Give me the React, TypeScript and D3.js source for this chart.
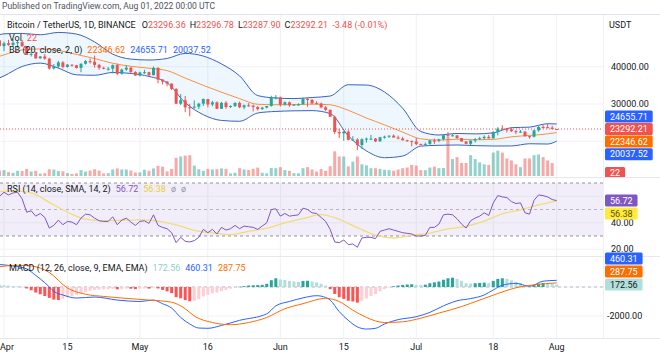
import React from "react";
import * as d3 from "d3";

// ---------- DATA (daily, index 0 = 2022-03-31) ----------
const START_DATE = "2022-03-31";

const OPEN = [
  47067, 45510, 46283, 45811, 46407, 46580, 45497, 43170, 43444, 42252, 42753, 42158, 39530, 40074, 41147, 39942, 40551, 40378, 39678, 40801, 41493, 41358, 40480, 39709, 39441, 39450, 40426, 38112, 39235, 39742, 38596,
  37630, 38468, 38525, 37729, 39690, 36552, 36013, 35472, 34039, 30076, 31017, 29103, 29029, 29287, 30086, 31329, 29874, 30444, 28715, 30319, 29201, 29445, 30293, 29110, 29655, 29542, 29202, 28628, 29032, 29469, 31735,
  31802, 29805, 30452, 29700, 29865, 29920, 31373, 31125, 30205, 30110, 29092, 28424, 26574, 22488, 22136, 22584, 20381, 20471, 19017, 20553, 20720, 20724, 19987, 21085, 21231, 21502, 21027, 20735, 20281, 20105,
  19943, 19253, 19233, 19300, 20232, 20190, 20548, 21637, 21582, 21592, 20860, 19970, 19323, 20212, 20569, 20836, 21190, 20780, 22485, 23389, 23231, 23164, 22714, 22465, 22609, 21361, 21239, 22930, 23843, 23804, 23656,
  23296.36,
];
const HIGH = [
  47600, 46720, 47213, 47444, 46890, 47200, 45507, 43900, 43970, 42800, 43410, 42414, 40700, 41561, 41500, 40709, 40605, 40470, 40900, 41760, 42199, 42976, 40795, 39980, 39940, 40616, 40797, 39474, 40372, 39925, 38795,
  38675, 39167, 38651, 40023, 39845, 36639, 36130, 35510, 34243, 32659, 32162, 30032, 30976, 30343, 31460, 31330, 30788, 30700, 30545, 30777, 29618, 30487, 30672, 29850, 30223, 29843, 29400, 29255, 29500, 32222, 32399,
  31982, 30687, 30668, 29960, 30189, 31765, 31589, 31328, 30700, 30386, 29440, 28550, 26896, 23362, 22800, 22980, 21365, 20790, 20815, 21000, 21723, 20875, 21200, 21520, 21600, 21868, 21520, 21184, 20432, 20180,
  20876, 19430, 19649, 20354, 20725, 20675, 21838, 22527, 21955, 21609, 20868, 20046, 20250, 20880, 21200, 21600, 21685, 22730, 23800, 24276, 23444, 23756, 23000, 23014, 22660, 21400, 23100, 24199, 24442, 24668, 24194,
  23296.78,
];
const LOW = [
  45200, 44200, 45620, 45530, 45118, 45353, 43121, 42727, 42107, 42125, 41868, 39200, 39254, 39588, 39551, 39770, 40019, 39546, 38536, 40571, 40820, 39751, 39177, 39285, 38929, 38200, 37702, 37867, 38881, 38176, 37578,
  37386, 38052, 37517, 37670, 35571, 35258, 34785, 33713, 30033, 29730, 27785, 26700, 28751, 28630, 29480, 29087, 29420, 28654, 28708, 28730, 28947, 29227, 28893, 28600, 29295, 28019, 28261, 28452, 28800, 29283, 31215,
  29311, 29586, 29250, 29486, 29500, 29866, 29250, 29843, 29944, 28850, 28100, 26560, 21925, 20846, 20111, 20232, 20246, 17622, 17960, 19637, 20348, 19770, 19892, 20703, 20900, 20964, 20510, 20173, 19855, 18626,
  18975, 18978, 18781, 19055, 19304, 19762, 20251, 21189, 21345, 20655, 19900, 19240, 18910, 19616, 20384, 20480, 20758, 20750, 21580, 23065, 22341, 22500, 21934, 22257, 21250, 20706, 21044, 22580, 23414, 23502, 23227,
  23287.9,
];
const CLOSE = [
  45510, 46283, 45811, 46407, 46580, 45497, 43170, 43444, 42252, 42753, 42158, 39530, 40074, 41147, 39942, 40551, 40378, 39678, 40801, 41493, 41358, 40480, 39709, 39441, 39450, 40426, 38112, 39235, 39742, 38596, 37630,
  38468, 38525, 37729, 39690, 36552, 36013, 35472, 34039, 30076, 31017, 29103, 29029, 29287, 30086, 31329, 29874, 30444, 28715, 30319, 29201, 29445, 30293, 29110, 29655, 29542, 29202, 28628, 29032, 29469, 31735, 31802,
  29805, 30452, 29700, 29865, 29920, 31373, 31125, 30205, 30110, 29092, 28424, 26574, 22488, 22136, 22584, 20381, 20471, 19017, 20553, 20720, 20724, 19987, 21085, 21231, 21502, 21027, 20735, 20281, 20105, 19943,
  19253, 19233, 19300, 20232, 20190, 20548, 21637, 21582, 21592, 20860, 19970, 19323, 20212, 20569, 20836, 21190, 20780, 22485, 23389, 23231, 23164, 22714, 22465, 22609, 21361, 21239, 22930, 23843, 23804, 23656, 23295.69,
  23292.21,
];
// volume, thousand BTC
const VOLUME = [
  42, 45, 30, 25, 40, 38, 55, 35, 40, 18, 22, 52, 50, 38, 36, 22, 16, 20, 45, 34, 42, 52, 42, 20, 22, 50, 58, 50, 50, 42, 27,
  28, 48, 40, 58, 78, 72, 35, 55, 140, 150, 157, 160, 80, 52, 40, 55, 50, 52, 58, 55, 20, 25, 60, 50, 46, 56, 65, 25, 20, 62, 60,
  68, 46, 40, 22, 21, 60, 68, 50, 34, 53, 40, 75, 190, 150, 150, 75, 110, 150, 90, 82, 60, 60, 55, 48, 45, 40, 50, 60, 65, 85,
  80, 45, 45, 65, 72, 60, 62, 300, 130, 145, 100, 100, 160, 130, 105, 90, 85, 180, 195, 180, 135, 120, 90, 68, 135, 135, 160, 165, 145, 120, 100,
  0.022,
];
const RSI = [
  60, 63, 61, 62.5, 63, 58, 48, 49, 45, 47, 44, 36, 38, 42, 38.5, 41, 40.5, 38.5, 43.5, 46.5, 46, 43.5, 41.5, 41, 41, 44.5, 38.5, 42, 43.5, 40.5, 38,
  41, 41.5, 39.5, 46, 38, 36.5, 35.5, 32.5, 25, 29, 26, 25.5, 26.5, 29, 35, 32.5, 35, 31.5, 36.5, 34.5, 35.5, 38, 35.5, 37.5, 37, 36.5, 35, 37.5, 40, 50, 50.5,
  45, 47, 45, 45.5, 46, 51, 50, 47.5, 47, 44, 41, 35, 25.5, 25, 27, 23.5, 24, 21.5, 28.5, 29, 29, 28, 33.5, 34.5, 35.5, 34.5, 33.5, 32.5, 32, 31.5,
  30, 30, 30.5, 36.5, 36.5, 39, 46, 46.5, 46, 43, 39, 36, 41.5, 43.5, 45, 47.5, 45.5, 55, 60.5, 59.5, 59, 56, 54.5, 55, 47.5, 46.5, 57, 61, 60.5, 59.5, 57.5,
  56.72,
];
const MACD_HIST = [
  150, 120, 90, 60, 40, 20, -100, -220, -380, -500, -620, -750, -870, -900, -820, -700, -620, -540, -430, -330, -260, -200, -180, -170, -150, -120, -160, -150, -110, -120, -140,
  -120, -100, -110, -20, -100, -200, -300, -420, -700, -780, -900, -980, -950, -850, -650, -550, -430, -380, -270, -200, -120, -30, 20, 60, 100, 120, 130, 150, 220, 470, 600,
  520, 480, 420, 380, 350, 420, 430, 380, 320, 220, 100, -150, -480, -700, -820, -950, -1000, -1080, -950, -800, -620, -480, -300, -150, -30, 50, 100, 140, 170, 190,
  150, 140, 160, 260, 320, 380, 500, 600, 640, 560, 430, 260, 240, 260, 280, 300, 270, 420, 560, 600, 560, 460, 360, 280, 120, 40, 120, 230, 280, 270, 220,
  172.56,
];

// keyframe series (day index from START_DATE)
const BB_DAY = [0, 1, 5, 9, 13, 17, 21, 25, 29, 33, 37, 41, 45, 49, 53, 57, 61, 65, 69, 73, 77, 81, 85, 89, 93, 97, 101, 105, 109, 113, 117, 121, 123];
const BB_BASIS = [42790, 43170, 44490, 44760, 44400, 43290, 42180, 40910, 40120, 39590, 38950, 36950, 34990, 33170, 31450, 29920, 29810, 29810, 29980, 29780, 28310, 26250, 24410, 22460, 20670, 20310, 20560, 20410, 20500, 21200, 21570, 21990, 22346.62];
const BB_UPPER = [48600, 48810, 48930, 48560, 49180, 48750, 46650, 43370, 42040, 41790, 42210, 43560, 42850, 40750, 37540, 32260, 31610, 31450, 31740, 32140, 35170, 35080, 33220, 28860, 22630, 21690, 22100, 21990, 22260, 23650, 23800, 24710, 24655.71];
const BB_LOWER = [37000, 37530, 40050, 40960, 39620, 37820, 37700, 38450, 38190, 37390, 35680, 30350, 27130, 25590, 25370, 27580, 28010, 28170, 28220, 27420, 21460, 17420, 15600, 16050, 18710, 18930, 19010, 18830, 18740, 18750, 19340, 19270, 20037.52];

const RSI_MA_DAY = [0, 3, 7, 11, 15, 19, 23, 27, 31, 35, 39, 43, 47, 51, 55, 59, 63, 67, 71, 75, 79, 83, 87, 91, 95, 99, 103, 107, 111, 115, 119, 123];
const RSI_MA = [63.5, 64, 62.5, 55.4, 48.1, 42.7, 41.5, 41.9, 42.2, 41.2, 38.4, 34.3, 32.3, 31.0, 33.5, 35.9, 40.0, 43.1, 46.1, 42.5, 36.3, 30.6, 28.5, 30.5, 32.25, 35.3, 37.3, 41.2, 46.75, 49.8, 53.5, 56.38];

const MACD_DAY = [0, 3, 6, 8, 10, 11, 12, 14, 17, 21, 26, 31, 34, 36, 38, 40, 42, 44, 46, 49, 53, 59, 61, 64, 67, 70, 72, 73, 75, 77, 79, 81, 83, 85, 88, 92, 95, 98, 100, 101, 104, 107, 109, 111, 114, 117, 120, 123];
const MACD_LINE = [1550, 1450, 1250, 800, 300, 0, -300, -550, -760, -690, -900, -1000, -900, -1150, -1450, -2100, -2550, -2830, -2850, -2650, -2300, -1850, -1300, -1000, -750, -600, -720, -900, -1700, -2300, -2750, -2900, -2850, -2550, -2250, -2050, -1750, -1300, -1050, -950, -800, -550, -200, 120, 250, 50, 400, 460.31];
const SIGNAL_DAY = [0, 4, 7, 11, 15, 19, 23, 27, 33, 38, 41, 43, 47, 51, 55, 59, 63, 67, 72, 75, 78, 81, 85, 89, 93, 97, 102, 106, 110, 114, 118, 123];
const SIGNAL_LINE = [1400, 1500, 1450, 1000, -70, -500, -650, -760, -900, -1050, -1500, -2000, -2450, -2600, -2450, -2100, -1500, -1150, -780, -1000, -1600, -2100, -2450, -2400, -2150, -1800, -1350, -900, -450, -50, 150, 287.75];

const TIME_TICKS = ["2022-04-01", "2022-04-15", "2022-05-01", "2022-05-16", "2022-06-01", "2022-06-15", "2022-07-01", "2022-07-18", "2022-08-01"];
const TIME_LABELS = ["Apr", "15", "May", "16", "Jun", "15", "Jul", "18", "Aug"];
const PRICE_TICKS = [40000, 30000, 20000];
const RSI_TICKS = [60, 40, 20];
const RSI_BANDS = [70, 50, 30];
const MACD_TICKS = [0, -2000];

// ---------- LAYOUT / STYLE ----------
const W = 660, H = 357;
const PLOT_R = 603;
const FONT = "Roboto, 'Liberation Sans', Arial, sans-serif";
const UP = "#26a69a", DOWN = "#ef5350";
const BLUE = "#2962FF", ORANGE = "#FF6D00", PURPLE = "#7E57C2", YELLOW = "#FFEB3B";
const TXT = "#131722";
const PANE = { price: [14, 177], rsi: [178, 256], macd: [257, 338] };

const startDate = new Date(START_DATE + "T00:00:00Z");
const dateAt = (i: number) => d3.utcDay.offset(startDate, i);

const x = d3.scaleUtc().domain([new Date("2022-04-01T00:00:00Z"), new Date("2022-08-01T00:00:00Z")]).range([4, 556.7]);
const yP = d3.scaleLinear().domain([30000, 40000]).range([104, 66.7]);
const yV = d3.scaleLinear().domain([0, 300]).range([176, 137]);
const yR = d3.scaleLinear().domain([30, 70]).range([236, 183]);
const yM = d3.scaleLinear().domain([-2000, 0]).range([316, 287]);

const tw = (s: string) => s.split("").reduce((a, c) => a + (c === "." ? 2.3 : c === "-" ? 3.2 : 5.06), 0);

function stack(items: { v: number; y: number }[], anchor: number, h: number) {
  const out = items.map((d) => d.y);
  for (let i = anchor - 1; i >= 0; i--) out[i] = Math.min(items[i].y, out[i + 1] - h);
  for (let i = anchor + 1; i < items.length; i++) out[i] = Math.max(items[i].y, out[i - 1] + h);
  return out;
}

function AxisBox({ y, text, fill, color = "#fff" }: { y: number; text: string; fill: string; color?: string }) {
  const w = tw(text) + 10;
  return (
    <g>
      <rect x={605} y={y - 6} width={w} height={12} rx={1.5} fill={fill} />
      <text x={610} y={y} dy="0.35em" fontSize={9} fill={color} fontFamily={FONT}>{text}</text>
    </g>
  );
}

export default function App() {
  const idx = d3.range(CLOSE.length);
  const last = CLOSE.length - 1;
  const bw = 3;

  const kf = (days: number[], vals: number[], ys: (v: number) => number) =>
    d3.line<number>().x((_, i) => x(dateAt(days[i]))).y((_, i) => ys(vals[i])).curve(d3.curveMonotoneX)(days) || "";

  const bbArea = d3.area<number>()
    .x((_, i) => x(dateAt(BB_DAY[i])))
    .y0((_, i) => yP(BB_LOWER[i]))
    .y1((_, i) => yP(BB_UPPER[i]))
    .curve(d3.curveMonotoneX)(BB_DAY) || "";

  const rsiPath = d3.line<number>().x((i) => x(dateAt(i))).y((i) => yR(RSI[i]))(idx) || "";

  const priceItems = [
    { v: BB_UPPER[BB_UPPER.length - 1], fill: BLUE },
    { v: CLOSE[last], fill: DOWN },
    { v: BB_BASIS[BB_BASIS.length - 1], fill: ORANGE },
    { v: BB_LOWER[BB_LOWER.length - 1], fill: BLUE },
  ].map((d) => ({ ...d, y: yP(d.v) }));
  const priceY = stack(priceItems, 1, 12.6);

  const rsiItems = [
    { v: RSI[last], fill: PURPLE, color: "#fff" },
    { v: RSI_MA[RSI_MA.length - 1], fill: YELLOW, color: "#5b5200" },
  ].map((d) => ({ ...d, y: yR(d.v) }));
  const rsiY = stack(rsiItems, 0, 13);

  const macdItems = [
    { v: MACD_LINE[MACD_LINE.length - 1], fill: BLUE, color: "#fff" },
    { v: SIGNAL_LINE[SIGNAL_LINE.length - 1], fill: ORANGE, color: "#fff" },
    { v: MACD_HIST[last], fill: "#B2DFDB", color: TXT },
  ].map((d) => ({ ...d, y: yM(d.v) }));
  const macdY = stack(macdItems, 2, 13);

  const free = (y: number, boxes: number[]) => boxes.every((b) => Math.abs(b - y) >= 8);

  const histColor = (i: number) => {
    const h = MACD_HIST[i];
    const p = i > 0 ? MACD_HIST[i - 1] : h;
    if (h >= 0) return p < h ? "#26A69A" : "#B2DFDB";
    return p < h ? "#FFCDD2" : "#FF5252";
  };

  const fmt = (v: number) => v.toFixed(2);
  const chg = CLOSE[last] - CLOSE[last - 1];
  const chgPct = (chg / CLOSE[last - 1]) * 100;

  return (
    <svg width={W} height={H} style={{ display: "block", position: "absolute", left: 0, top: 0, background: "#fff" }} fontFamily={FONT}>
      <defs>
        <clipPath id="cpP"><rect x={0} y={PANE.price[0]} width={PLOT_R} height={PANE.price[1] - PANE.price[0]} /></clipPath>
        <clipPath id="cpR"><rect x={0} y={PANE.rsi[0]} width={PLOT_R} height={PANE.rsi[1] - PANE.rsi[0]} /></clipPath>
        <clipPath id="cpM"><rect x={0} y={PANE.macd[0]} width={PLOT_R} height={PANE.macd[1] - PANE.macd[0]} /></clipPath>
        <clipPath id="cpAxisP"><rect x={PLOT_R} y={PANE.price[0]} width={W - PLOT_R} height={PANE.price[1] - PANE.price[0]} /></clipPath>
      </defs>
      <rect x={0} y={0} width={W} height={H} fill="#fff" />

      <text x={2} y={9} fontSize={8.6} fill="#50535e">Published on TradingView.com, Aug 01, 2022 00:00 UTC</text>
      <line x1={0} x2={W} y1={14.5} y2={14.5} stroke="#e0e3eb" />

      {/* grid */}
      {TIME_TICKS.map((t, i) => (
        <line key={"vg" + i} x1={x(new Date(t + "T00:00:00Z"))} x2={x(new Date(t + "T00:00:00Z"))} y1={15} y2={338} stroke="#eef0f4" />
      ))}
      {PRICE_TICKS.map((t) => <line key={"pg" + t} x1={0} x2={PLOT_R} y1={yP(t)} y2={yP(t)} stroke="#f0f3fa" />)}
      {RSI_TICKS.map((t) => <line key={"rg" + t} x1={0} x2={PLOT_R} y1={yR(t)} y2={yR(t)} stroke="#f0f3fa" />)}
      {MACD_TICKS.map((t) => <line key={"mg" + t} x1={0} x2={PLOT_R} y1={yM(t)} y2={yM(t)} stroke="#f0f3fa" />)}
      <line x1={0} x2={W} y1={177.5} y2={177.5} stroke="#e6e8ee" />
      <line x1={0} x2={W} y1={256.5} y2={256.5} stroke="#e6e8ee" />
      <line x1={0} x2={W} y1={338.5} y2={338.5} stroke="#e6e8ee" />
      <line x1={PLOT_R + 0.5} x2={PLOT_R + 0.5} y1={15} y2={338} stroke="#eef0f4" />

      {/* PRICE PANE */}
      <g clipPath="url(#cpP)">
        <path d={bbArea} fill="rgba(33,150,243,0.08)" />
        {idx.map((i) => (
          <rect key={"v" + i} x={x(dateAt(i)) - bw / 2} y={yV(VOLUME[i])} width={bw} height={yV(0) - yV(VOLUME[i])}
            fill={CLOSE[i] >= OPEN[i] ? "rgba(38,166,154,0.5)" : "rgba(239,83,80,0.5)"} />
        ))}
        <path d={kf(BB_DAY, BB_UPPER, yP)} fill="none" stroke="#3b62c0" strokeWidth={1} />
        <path d={kf(BB_DAY, BB_LOWER, yP)} fill="none" stroke="#3b62c0" strokeWidth={1} />
        <path d={kf(BB_DAY, BB_BASIS, yP)} fill="none" stroke={ORANGE} strokeOpacity={0.75} strokeWidth={1} />
        <line x1={0} x2={PLOT_R} y1={yP(CLOSE[last])} y2={yP(CLOSE[last])} stroke={DOWN} strokeDasharray="1,2" />
        {idx.map((i) => {
          const cx = x(dateAt(i));
          const c = CLOSE[i] >= OPEN[i] ? UP : DOWN;
          const top = yP(Math.max(OPEN[i], CLOSE[i]));
          const bot = yP(Math.min(OPEN[i], CLOSE[i]));
          return (
            <g key={"c" + i}>
              <line x1={cx} x2={cx} y1={yP(HIGH[i])} y2={yP(LOW[i])} stroke={c} strokeWidth={1} />
              <rect x={cx - bw / 2} y={top} width={bw} height={Math.max(1, bot - top)} fill={c} />
            </g>
          );
        })}
      </g>

      {/* RSI PANE */}
      <g clipPath="url(#cpR)">
        <rect x={0} y={yR(70)} width={PLOT_R} height={yR(30) - yR(70)} fill="rgba(126,87,194,0.1)" />
        {RSI_BANDS.map((b) => (
          <line key={"rb" + b} x1={0} x2={PLOT_R} y1={yR(b)} y2={yR(b)} stroke="#787B86" strokeOpacity={b === 50 ? 0.5 : 0.8} strokeDasharray="3,3" />
        ))}
        <path d={kf(RSI_MA_DAY, RSI_MA, yR)} fill="none" stroke="#f2dc7a" strokeWidth={1.3} />
        <path d={rsiPath} fill="none" stroke={PURPLE} strokeWidth={1} />
      </g>

      {/* MACD PANE */}
      <g clipPath="url(#cpM)">
        <line x1={0} x2={PLOT_R} y1={yM(0)} y2={yM(0)} stroke="#787B86" strokeOpacity={0.5} strokeDasharray="3,3" />
        {idx.map((i) => {
          const v = MACD_HIST[i];
          const y0 = yM(0), y1 = yM(v);
          return <rect key={"h" + i} x={x(dateAt(i)) - bw / 2} y={Math.min(y0, y1)} width={bw} height={Math.max(0.5, Math.abs(y1 - y0))} fill={histColor(i)} />;
        })}
        <path d={kf(MACD_DAY, MACD_LINE, yM)} fill="none" stroke={BLUE} strokeWidth={1} />
        <path d={kf(SIGNAL_DAY, SIGNAL_LINE, yM)} fill="none" stroke={ORANGE} strokeWidth={1} />
      </g>

      {/* legends */}
      <text x={7} y={28} fontSize={9} fill={TXT}>
        <tspan>Bitcoin / TetherUS, 1D, BINANCE</tspan>
        <tspan dx={6}>O</tspan><tspan fill={DOWN}>{fmt(OPEN[last])}</tspan>
        <tspan dx={4}>H</tspan><tspan fill={DOWN}>{fmt(HIGH[last])}</tspan>
        <tspan dx={4}>L</tspan><tspan fill={DOWN}>{fmt(LOW[last])}</tspan>
        <tspan dx={4}>C</tspan><tspan fill={DOWN}>{fmt(CLOSE[last])}</tspan>
        <tspan dx={4} fill={DOWN}>{`${fmt(chg)} (${chgPct.toFixed(2)}%)`}</tspan>
      </text>
      <text x={9} y={41} fontSize={9} fill={TXT}>
        <tspan>Vol</tspan><tspan dx={5} fill={DOWN}>{Math.round(VOLUME[last] * 1000)}</tspan>
      </text>
      <text x={9} y={53} fontSize={9} fill={TXT}>
        <tspan>BB (20, close, 2, 0)</tspan>
        <tspan dx={5} fill={ORANGE}>{fmt(BB_BASIS[BB_BASIS.length - 1])}</tspan>
        <tspan dx={5} fill={BLUE}>{fmt(BB_UPPER[BB_UPPER.length - 1])}</tspan>
        <tspan dx={5} fill={BLUE}>{fmt(BB_LOWER[BB_LOWER.length - 1])}</tspan>
      </text>
      <text x={7} y={192} fontSize={9} fill={TXT}>
        <tspan>RSI (14, close, SMA, 14, 2)</tspan>
        <tspan dx={5} fill={PURPLE}>{fmt(RSI[last])}</tspan>
        <tspan dx={5} fill="#e8cf3a">{fmt(RSI_MA[RSI_MA.length - 1])}</tspan>
        <tspan dx={5} fill="#9598a1">ø</tspan>
        <tspan dx={5} fill="#9598a1">ø</tspan>
      </text>
      <text x={9} y={271} fontSize={9} fill={TXT}>
        <tspan>MACD (12, 26, close, 9, EMA, EMA)</tspan>
        <tspan dx={5} fill="#8fcfc8">{fmt(MACD_HIST[last])}</tspan>
        <tspan dx={5} fill={BLUE}>{fmt(MACD_LINE[MACD_LINE.length - 1])}</tspan>
        <tspan dx={5} fill={ORANGE}>{fmt(SIGNAL_LINE[SIGNAL_LINE.length - 1])}</tspan>
      </text>

      {/* price axis */}
      <text x={609} y={25} dy="0.35em" fontSize={9} fill={TXT}>USDT</text>
      {PRICE_TICKS.filter((t) => free(yP(t), priceY)).map((t) => (
        <text key={"pt" + t} x={611} y={yP(t)} dy="0.35em" fontSize={9} fill={TXT}>{fmt(t)}</text>
      ))}
      {priceItems.map((d, i) => <AxisBox key={"pb" + i} y={priceY[i]} text={fmt(d.v)} fill={d.fill} />)}
      <g clipPath="url(#cpAxisP)">
        <AxisBox y={173} text={String(Math.round(VOLUME[last] * 1000))} fill={DOWN} />
      </g>

      {/* rsi axis */}
      {RSI_TICKS.filter((t) => free(yR(t), rsiY)).map((t) => (
        <text key={"rt" + t} x={611} y={yR(t)} dy="0.35em" fontSize={9} fill={TXT}>{fmt(t)}</text>
      ))}
      {rsiItems.map((d, i) => <AxisBox key={"rbx" + i} y={rsiY[i]} text={fmt(d.v)} fill={d.fill} color={d.color} />)}

      {/* macd axis */}
      {MACD_TICKS.filter((t) => free(yM(t), macdY)).map((t) => (
        <text key={"mt" + t} x={607} y={yM(t)} dy="0.35em" fontSize={9} fill={TXT}>{fmt(t)}</text>
      ))}
      {macdItems.map((d, i) => <AxisBox key={"mbx" + i} y={macdY[i]} text={fmt(d.v)} fill={d.fill} color={d.color} />)}

      {/* time axis */}
      {TIME_TICKS.map((t, i) => {
        const tx = x(new Date(t + "T00:00:00Z"));
        return (
          <text key={"tt" + i} x={Math.max(tx, 7)} y={350} textAnchor="middle" fontSize={9} fill={TXT}>{TIME_LABELS[i]}</text>
        );
      })}
    </svg>
  );
}
